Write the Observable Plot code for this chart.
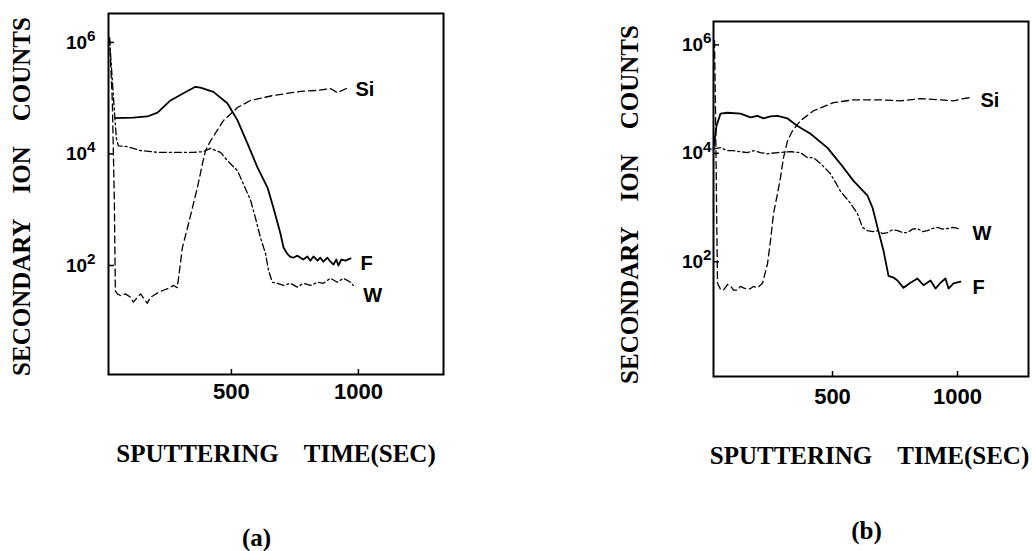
<!DOCTYPE html>
<html><head><meta charset="utf-8">
<script src="https://cdn.jsdelivr.net/npm/d3@7"></script>
<script src="https://cdn.jsdelivr.net/npm/@observablehq/plot@0.6"></script>
<style>
html,body{margin:0;padding:0;background:#fff;}
#wrap{display:flex;width:1032px;height:551px;overflow:hidden;}
#wrap svg{display:block;flex:none;}
</style></head><body><div id="wrap"></div>
<script>
// ---- Panel (a): sputtering time (s) and secondary ion counts ----
const aSiTime = [20,31,39,43,51,63,83,102,114,130,142,154,169,181,193,213,232,252,272,287,307,331,366,386,398,417,469,524,575,665,772,839,890,917,961];
const aSiCounts = [1.2e6,9e4,1500,35,31,29,31,27,22,27,31,26,21,27,29,33,36,39,44,40,210,560,2500,6700,1.15e4,1.7e4,4e4,6.8e4,9.1e4,1.12e5,1.32e5,1.38e5,1.49e5,1.26e5,1.55e5];
const aFTime = [43,114,169,209,260,311,358,378,429,484,524,563,602,642,665,693,705,720,732,744,760,772,783,799,811,823,839,850,862,878,890,902,913,921,933,949,969];
const aFCounts = [4.4e4,4.5e4,4.7e4,5.5e4,9.1e4,1.23e5,1.6e5,1.55e5,1.3e5,8.1e4,4e4,1.55e4,5800,2500,1100,375,210,162,143,138,150,138,128,145,122,145,122,138,117,138,117,104,128,100,128,122,134];
const aWTime = [20,31,39,47,55,91,142,209,287,350,390,417,457,484,524,547,575,594,614,634,646,661,681,705,732,760,783,811,839,862,890,917,941,969,980];
const aWCounts = [1.2e6,2.1e5,6e4,1.9e4,1.4e4,1.35e4,1.15e4,1.07e4,1.07e4,1.07e4,1.1e4,1.26e4,1.07e4,7600,5000,2900,1500,730,320,165,82,50,48,44,48,41,48,44,50,48,59,50,59,50,44];

// ---- Panel (b) ----
const bSiTime = [28,32,36,40,52,64,80,92,104,120,132,144,160,172,184,200,220,240,252,264,280,292,304,320,340,372,424,504,584,692,772,852,932,984,1024,1052];
const bSiCounts = [1.2e6,6.2e4,1350,40,31,30,38,36,30,30,35,33,31,32,35,33,40,92,245,770,1800,3600,8300,1.7e4,2.6e4,4e4,6.1e4,8.6e4,9.7e4,9.7e4,9.3e4,1.02e5,9.7e4,9.3e4,1.02e5,1.07e5];
const bFTime = [24,36,52,80,132,172,200,224,252,280,320,360,412,480,532,584,640,660,680,704,724,744,760,784,812,840,864,892,912,932,952,964,984,1012];
const bFCounts = [1.2e4,3.2e4,5.4e4,5.6e4,5.4e4,4.6e4,4.9e4,4.4e4,4.8e4,4.9e4,4.4e4,3.2e4,2.3e4,1.26e4,6400,3100,1650,1000,430,160,55,51,45,33,41,49,37,45,32,41,49,32,40,43];
const bWTime = [24,52,80,104,132,160,184,212,240,280,332,372,400,424,452,492,532,572,600,620,640,660,680,700,720,740,760,780,800,820,840,860,880,900,920,940,960,984,1012];
const bWCounts = [1.2e4,1.27e4,1.12e4,1.12e4,1.07e4,1.03e4,1.12e4,1.03e4,9800,1.03e4,1.07e4,1.03e4,8300,8300,6500,4200,2000,1200,770,430,375,360,375,330,345,390,375,345,345,400,410,360,375,410,430,400,410,430,400];

// ---- tick values and texts ----
const xTickValues = [500, 1000];
const yTickValues = [1e2, 1e4, 1e6];
const seriesNames = ["Si", "F", "W"];
const yTitle = "SECONDARY\u00a0\u00a0\u00a0\u00a0ION\u00a0\u00a0\u00a0\u00a0COUNTS";
const xTitle = "SPUTTERING\u00a0\u00a0\u00a0\u00a0TIME(SEC)";
const panelNames = ["(a)", "(b)"];

const rows = (t, v) => t.map((d, i) => ({t: d, v: v[i]}));
const SERIF = "'Liberation Serif', 'Times New Roman', serif";
const SANS = "'Liberation Sans', Arial, Helvetica, sans-serif";

function panel(o) {
  const si = rows(o.siT, o.siV), f = rows(o.fT, o.fV), w = rows(o.wT, o.wV);
  const lbl = (data, name, dx, dy) => Plot.text(data, Plot.selectLast({
    x: "t", y: "v", text: () => name, textAnchor: "start", dx, dy,
    fontSize: 20, fontFamily: SANS, fontWeight: "bold"
  }));
  const svg = Plot.plot({
    width: 516, height: 551,
    marginLeft: o.ml, marginRight: o.mr, marginTop: o.mt, marginBottom: o.mb,
    style: {fontFamily: SANS, fontWeight: "bold", background: "white", color: "black", overflow: "visible"},
    x: {domain: o.xDomain, label: null},
    y: {type: "log", domain: o.yDomain, label: null},
    marks: [
      Plot.frame({strokeWidth: 2}),
      Plot.axisX(xTickValues, {tickSize: -5, tickPadding: o.xPad, strokeWidth: 1.5,
        tickFormat: d => String(d), fontSize: 22, label: null}),
      Plot.axisY(yTickValues, {tickSize: -6, tickPadding: o.yPad, strokeWidth: 1.5,
        tickFormat: d => "10^" + Math.round(Math.log10(d)), fontSize: 19, label: null}),
      Plot.line(si, {x: "t", y: "v", stroke: "black", strokeWidth: 1.3, strokeDasharray: "7,4"}),
      Plot.line(w, {x: "t", y: "v", stroke: "black", strokeWidth: 1.3, strokeDasharray: "7,3,2,3"}),
      Plot.line(f, {x: "t", y: "v", stroke: "black", strokeWidth: 1.8}),
      lbl(si, seriesNames[0], o.siDx, o.siDy),
      lbl(f, seriesNames[1], o.fDx, o.fDy),
      lbl(w, seriesNames[2], o.wDx, o.wDy),
      Plot.text([yTitle], {text: d => d, frameAnchor: "left", textAnchor: "middle", rotate: -90,
        dx: o.ylDx, dy: o.ylDy, fontFamily: SERIF, fontSize: 25, fontWeight: "bold"}),
      Plot.text([xTitle], {text: d => d, frameAnchor: "bottom", textAnchor: "middle", dx: o.xlDx, dy: o.xlDy,
        fontFamily: SERIF, fontSize: 25, fontWeight: "bold"}),
      Plot.text([o.name], {text: d => d, frameAnchor: "bottom", textAnchor: "middle", dx: o.nDx, dy: o.nDy,
        fontFamily: SERIF, fontSize: 25, fontWeight: "bold"})
    ]
  });
  // superscript exponents on the y tick labels
  d3.select(svg).selectAll("text").each(function() {
    const m = /^10\^(\d)$/.exec(this.textContent);
    if (m) {
      this.textContent = "10";
      d3.select(this).append("tspan").attr("dy", "-0.5em").attr("font-size", "0.8em").text(m[1]);
    }
  });
  return svg;
}

const wrap = document.getElementById("wrap");
wrap.appendChild(panel({
  name: panelNames[0],
  siT: aSiTime, siV: aSiCounts, fT: aFTime, fV: aFCounts, wT: aWTime, wV: aWCounts,
  ml: 108, mr: 73, mt: 13, mb: 177,
  xDomain: [16, 1335], yDomain: [1.11, 3.3e6],
  xPad: 14, yPad: 19,
  siDx: 7, siDy: 2, fDx: 10, fDy: 5, wDx: 10, wDy: 10,
  ylDx: -86.5, ylDy: 2.5, xlDx: 0, xlDy: 87, nDx: -19.5, nDy: 171
}));
wrap.appendChild(panel({
  name: panelNames[1],
  siT: bSiTime, siV: bSiCounts, fT: bFTime, fV: bFCounts, wT: bWTime, wV: bWCounts,
  ml: 197, mr: 4, mt: 21, mb: 175,
  xDomain: [24, 1284], yDomain: [0.764, 2.7e6],
  xPad: 17, yPad: 8,
  siDx: 10, siDy: 3, fDx: 12, fDy: 6, wDx: 12, wDy: 4,
  ylDx: -84, ylDy: 5.5, xlDx: -1.5, xlDy: 87, nDx: -4.5, nDy: 162
}));
</script></body></html>
